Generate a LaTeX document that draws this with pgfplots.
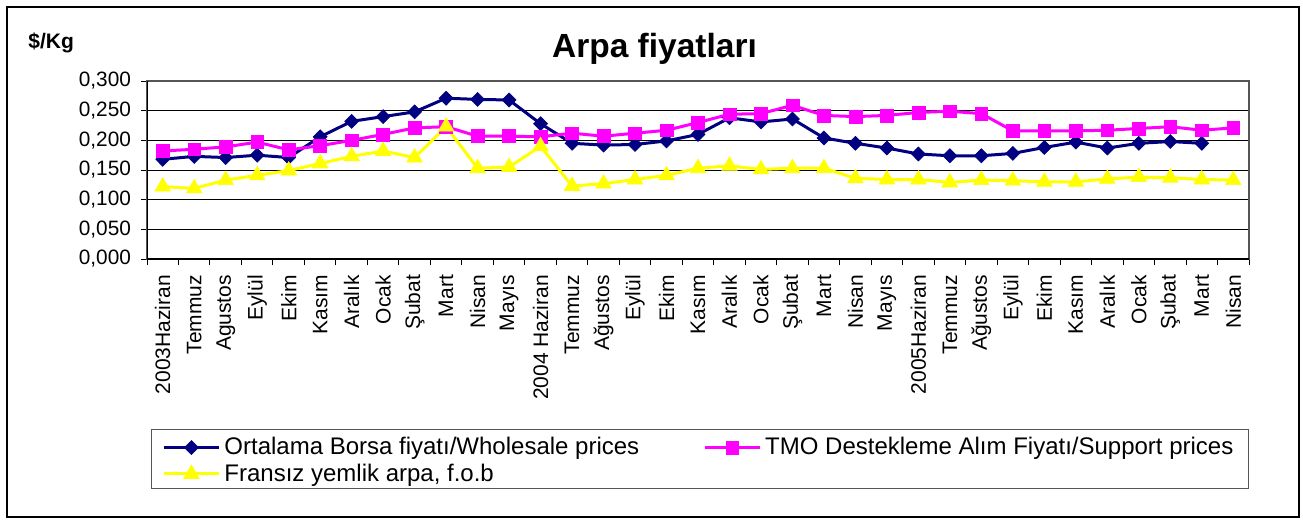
\documentclass[border=0pt]{standalone}
\usepackage{pgfplots}
\pgfplotsset{compat=1.18}
\usepackage{fontspec}
\setmainfont{Liberation Sans}
\definecolor{navyc}{HTML}{000080}
\definecolor{magc}{HTML}{FF00FF}
\definecolor{yelc}{HTML}{FFFF00}
\definecolor{bord}{HTML}{555555}
\begin{document}
\begin{tikzpicture}
\begin{scope}[x=0.5pt,y=-0.5pt]
\path (0,0) rectangle (1303,520);
\draw[black, line width=0.7pt] (7,7) rectangle (1299,517);
\draw[bord, line width=0.5pt] (151,429) rectangle (1248,488);
\node[anchor=base, inner sep=0pt, font=\bfseries\fontsize{16.75}{20}\selectfont] at (654.5,57) {Arpa fiyatları};
\node[anchor=base west, inner sep=0pt, font=\bfseries\fontsize{10.5}{12}\selectfont] at (28,48) {\$/Kg};
\end{scope}
\begin{axis}[
  at={(73.5pt,-129.5pt)}, anchor=south west,
  width=551pt, height=89pt, scale only axis,
  xmin=-0.5, xmax=34.5, ymin=0, ymax=0.3,
  axis line style={bord, line width=0.6pt},
  tick align=outside,
  xtick pos=bottom, ytick pos=left,
  major tick length=3pt,
  tick style={black, line width=0.5pt},
  ytick={0,0.05,0.1,0.15,0.2,0.25,0.3},
  scaled y ticks=false,
  yticklabel style={/pgf/number format/fixed, /pgf/number format/fixed zerofill, /pgf/number format/precision=3, /pgf/number format/use comma, /pgf/number format/assume math mode=true, font=\fontsize{10.4}{12}\selectfont, xshift=-1.5pt},
  ymajorgrids,
  grid style={black, line width=0.5pt},
  xtick={-0.5,0.5,...,34.5},
  xticklabels={},
  extra x ticks={0,...,34},
  extra x tick labels={2003Haziran,Temmuz,Agustos,Eylül,Ekim,Kasım,Aralık,Ocak,Şubat,Mart,Nisan,Mayıs,2004 Haziran,Temmuz,Ağustos,Eylül,Ekim,Kasım,Aralık,Ocak,Şubat,Mart,Nisan,Mayıs,2005Haziran,Temmuz,Ağustos,Eylül,Ekim,Kasım,Aralık,Ocak,Şubat,Mart,Nisan},
  extra x tick style={major tick length=0pt, xticklabel style={rotate=90, anchor=east, xshift=-4.5pt, font=\fontsize{10.5}{12}\selectfont}},
  legend columns=2,
  legend cell align=left,
  legend image code/.code={\draw[mark repeat=2,mark phase=2,#1] plot coordinates {(0pt,0pt) (13.75pt,0pt) (27.5pt,0pt)};},
  legend style={draw=none, fill=none, at={(0.0082,-0.955)}, anchor=north west, row sep=-1pt, font=\fontsize{12}{14}\selectfont, /tikz/every even column/.append style={column sep=30pt}},
]
\draw[black, line width=0.6pt] (rel axis cs:0,0) -- (rel axis cs:1,0);
\draw[black, line width=0.6pt] (rel axis cs:0,0) -- (rel axis cs:0,1);
\addplot[navyc, line width=1.5pt, mark=diamond*, mark size=3.5pt, mark options={solid, xscale=1.33, fill=navyc, draw=navyc, line width=0.3pt}] table {
0 0.168
1 0.173
2 0.171
3 0.175
4 0.171
5 0.206
6 0.232
7 0.240
8 0.248
9 0.271
10 0.269
11 0.268
12 0.228
13 0.195
14 0.192
15 0.193
16 0.199
17 0.210
18 0.238
19 0.231
20 0.236
21 0.204
22 0.195
23 0.187
24 0.177
25 0.174
26 0.174
27 0.178
28 0.188
29 0.197
30 0.187
31 0.195
32 0.198
33 0.195
};
\addlegendentry{Ortalama Borsa fiyatı/Wholesale prices}
\addplot[magc, line width=1.5pt, mark=square*, mark size=3.2pt, mark options={solid, fill=magc, draw=magc, line width=0.3pt}] table {
0 0.182
1 0.185
2 0.189
3 0.197
4 0.184
5 0.191
6 0.200
7 0.210
8 0.221
9 0.223
10 0.207
11 0.207
12 0.206
13 0.212
14 0.207
15 0.212
16 0.217
17 0.230
18 0.244
19 0.245
20 0.259
21 0.242
22 0.240
23 0.242
24 0.247
25 0.249
26 0.245
27 0.216
28 0.216
29 0.216
30 0.217
31 0.220
32 0.223
33 0.217
34 0.221
};
\addlegendentry{TMO Destekleme Alım Fiyatı/Support prices}
\addplot[yelc, line width=1.5pt, mark=triangle*, mark size=4.5pt, mark options={solid, fill=yelc, draw=yelc, line width=0.3pt}] table {
0 0.122
1 0.119
2 0.133
3 0.141
4 0.149
5 0.161
6 0.173
7 0.182
8 0.171
9 0.223
10 0.153
11 0.155
12 0.190
13 0.123
14 0.127
15 0.134
16 0.141
17 0.153
18 0.157
19 0.151
20 0.153
21 0.153
22 0.136
23 0.134
24 0.134
25 0.129
26 0.133
27 0.132
28 0.130
29 0.130
30 0.135
31 0.138
32 0.137
33 0.134
34 0.133
};
\addlegendentry{Fransız yemlik arpa, f.o.b}
\end{axis}
\end{tikzpicture}
\end{document}
